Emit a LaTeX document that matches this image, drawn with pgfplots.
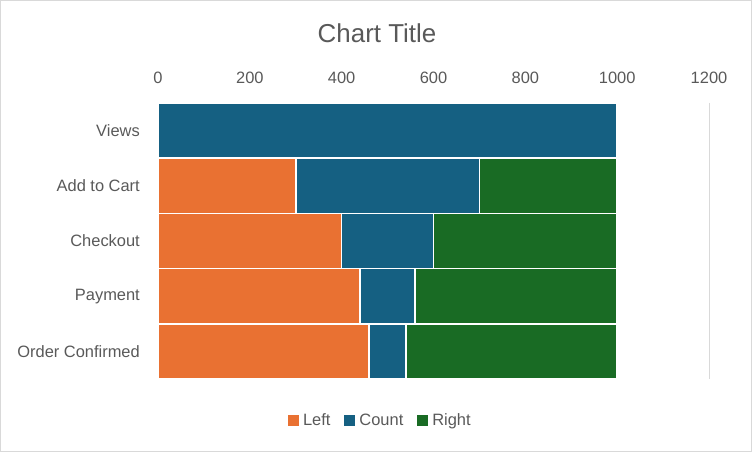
\documentclass[border=0pt]{standalone}
\usepackage{pgfplots}
\pgfplotsset{compat=1.18}
\usepackage{fontspec}
\setmainfont{Liberation Sans}
\definecolor{cLeft}{HTML}{E97132}
\definecolor{cCount}{HTML}{156082}
\definecolor{cRight}{HTML}{196B24}
\definecolor{txt}{HTML}{595959}
\definecolor{grd}{HTML}{D9D9D9}
\begin{document}
\begin{tikzpicture}[x=1bp,y=1bp]
\useasboundingbox (0,0) rectangle (752,452);
\draw[grd, line width=1bp] (0.5,0.5) rectangle (751.5,451.5);
\node[text=txt, font=\fontsize{26}{30}\selectfont, anchor=base] at (377,409) {Chart Title};
\begin{axis}[
  at={(158bp,73bp)}, anchor=south west,
  scale only axis, width=551bp, height=276bp,
  xbar stacked, bar width=1,
  xmin=0, xmax=1200, ymin=-0.5, ymax=4.5,
  y dir=reverse,
  xtick={0,200,...,1200},
  ytick={0,1,2,3,4},
  yticklabels={Views,Add to Cart,Checkout,Payment,Order Confirmed},
  axis x line*=top,
  x axis line style={draw=none},
  axis y line*=left,
  y axis line style={draw=grd, line width=1bp, -},
  major tick length=0pt,
  xmajorgrids,
  major grid style={grd, line width=1bp},
  ticklabel style={text=txt, font=\fontsize{16.5}{19}\selectfont},
  /pgf/number format/assume math mode=true,
  /pgf/number format/set thousands separator={},
  xticklabel style={inner sep=0pt, anchor=south, yshift=19bp},
  yticklabel style={inner sep=0pt, anchor=east, xshift=-18bp},
  legend style={at={(0.4036,-0.1486)}, anchor=center, draw=none, fill=none,
    legend columns=-1, font=\fontsize{16.5}{19}\selectfont, text=txt,
    /tikz/every even column/.append style={column sep=12bp},
    /tikz/every odd column/.append style={column sep=2bp},
    inner sep=0pt},
  legend image code/.code={\fill[#1,draw=none] (0bp,-5.5bp) rectangle (11bp,5.5bp);},
  legend cell align=left,
]
\addplot[fill=cLeft, draw=white, line width=1.5bp] coordinates {(0,0) (300,1) (400,2) (440,3) (460,4)};
\addplot[fill=cCount, draw=white, line width=1.5bp] coordinates {(1000,0) (400,1) (200,2) (120,3) (80,4)};
\addplot[fill=cRight, draw=white, line width=1.5bp] coordinates {(0,0) (300,1) (400,2) (440,3) (460,4)};
\legend{Left,Count,Right}
\end{axis}
\end{tikzpicture}
\end{document}
